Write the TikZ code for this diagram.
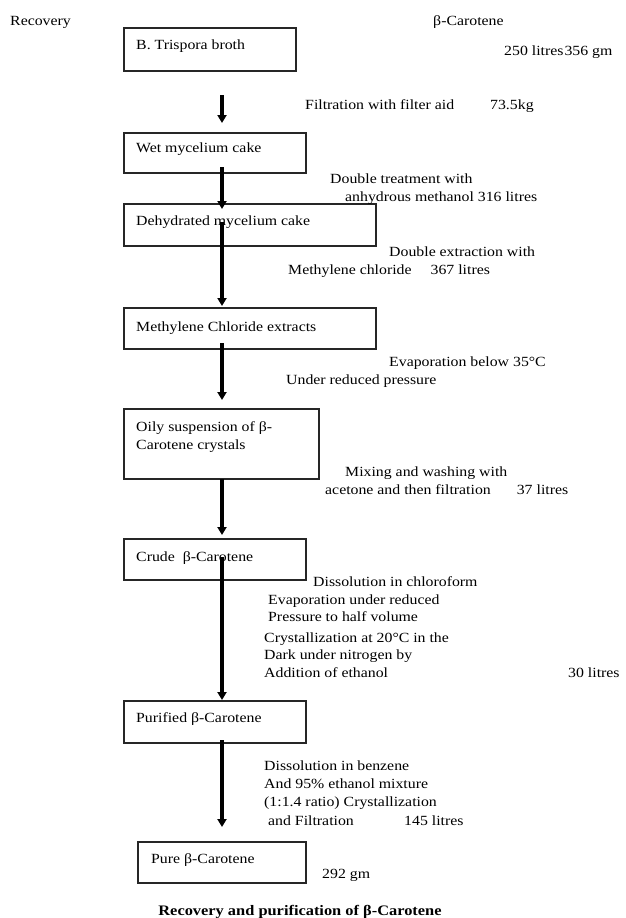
\documentclass[tikz,border=0pt]{standalone}
\usepackage{fontspec}
\setmainfont{Liberation Serif}[FakeStretch=1.13]
\usetikzlibrary{arrows.meta,calc}
\begin{document}
\begin{tikzpicture}[x=1pt,y=-1pt,
  stepbox/.style={draw=black!85,line width=1.1pt,rectangle,inner sep=0pt},
  txt/.style={anchor=base west,inner sep=0pt,font=\fontsize{14}{16}\selectfont},
  flow/.style={line width=3.4pt,-{Triangle[width=9pt,length=8pt]}}]
\useasboundingbox (0,0) rectangle (625,918);

% process boxes
\node[stepbox,minimum width=172pt,minimum height=43pt] (b1) at (210,49.5) {};
\node[stepbox,minimum width=182pt,minimum height=40pt] (b2) at (215,153) {};
\node[stepbox,minimum width=252pt,minimum height=42pt] (b3) at (250,225) {};
\node[stepbox,minimum width=252pt,minimum height=41pt] (b4) at (250,328.5) {};
\node[stepbox,minimum width=195pt,minimum height=70pt] (b5) at (221.5,444) {};
\node[stepbox,minimum width=182pt,minimum height=41pt] (b6) at (215,559.5) {};
\node[stepbox,minimum width=182pt,minimum height=42pt] (b7) at (215,722) {};
\node[stepbox,minimum width=168pt,minimum height=41pt] (b8) at (222,862.5) {};

% box labels
\node[txt] (t1) at (136,49) {B. Trispora broth};
\node[txt] (t2) at (136,152) {Wet mycelium cake};
\node[txt] (t3) at (136,225) {Dehydrated mycelium cake};
\node[txt] (t4) at (136,331) {Methylene Chloride extracts};
\node[txt] (t5a) at (136,431) {Oily suspension of β-};
\node[txt] (t5b) at (136,449) {Carotene crystals};
\node[txt] (t6) at (136,561) {Crude\ \ β-Carotene};
\node[txt] (t7) at (136,722) {Purified β-Carotene};
\node[txt] (t8) at (151,863) {Pure β-Carotene};

% header
\node[txt] (hd1) at (10,25) {Recovery};
\node[txt] (hd2) at (433,25) {β-Carotene};
\node[txt] (hd3) at (504,55) {250 litres\hspace{1pt}356 gm};

% step annotations
\node[txt] (s1) at (305,109) {Filtration with filter aid\hspace{36pt}73.5kg};
\node[txt] (s2a) at (330,183) {Double treatment with};
\node[txt] (s2b) at (345,201) {anhydrous methanol 316 litres};
\node[txt] (s3a) at (389,256) {Double extraction with};
\node[txt] (s3b) at (288,274) {Methylene chloride\hspace{19pt}367 litres};
\node[txt] (s4a) at (389,366) {Evaporation below 35°C};
\node[txt] (s4b) at (286,384) {Under reduced pressure};
\node[txt] (s5a) at (345,476) {Mixing and washing with};
\node[txt] (s5b) at (325,494) {acetone and then filtration\hspace{26pt}37 litres};
\node[txt] (s6a) at (313,586) {Dissolution in chloroform};
\node[txt] (s6b) at (268,604) {Evaporation under reduced};
\node[txt] (s6c) at (268,621) {Pressure to half volume};
\node[txt] (s6d) at (264,642) {Crystallization at 20°C in the};
\node[txt] (s6e) at (264,659) {Dark under nitrogen by};
\node[txt] (s6f) at (264,677) {Addition of ethanol};
\node[txt] (s6g) at (568,677) {30 litres};
\node[txt] (s7a) at (264,770) {Dissolution in benzene};
\node[txt] (s7b) at (264,788) {And 95\% ethanol mixture};
\node[txt] (s7c) at (264,806) {(1:1.4 ratio) Crystallization};
\node[txt] (s7d) at (268,825) {and Filtration};
\node[txt] (s7e) at (404,825) {145 litres};
\node[txt] (s8) at (322,878) {292 gm};

% caption
\node[anchor=base,inner sep=0pt,font=\fontsize{14.5}{16}\selectfont\bfseries] (cap) at (300,915) {Recovery and purification of β-Carotene};

% arrow end points
\coordinate (a1s) at (222,95);  \coordinate (a1e) at (222,123);
\coordinate (a2s) at (222,167); \coordinate (a2e) at (222,209);
\coordinate (a3s) at (222,222); \coordinate (a3e) at (222,306);
\coordinate (a4s) at (222,343); \coordinate (a4e) at (222,400);
\coordinate (a5s) at (222,479); \coordinate (a5e) at (222,535);
\coordinate (a6s) at (222,557); \coordinate (a6e) at (222,700);
\coordinate (a7s) at (222,740); \coordinate (a7e) at (222,827);

\draw[flow] (a1s) -- (a1e);
\draw[flow] (a2s) -- (a2e);
\draw[flow] (a3s) -- (a3e);
\draw[flow] (a4s) -- (a4e);
\draw[flow] (a5s) -- (a5e);
\draw[flow] (a6s) -- (a6e);
\draw[flow] (a7s) -- (a7e);
\end{tikzpicture}
\end{document}
